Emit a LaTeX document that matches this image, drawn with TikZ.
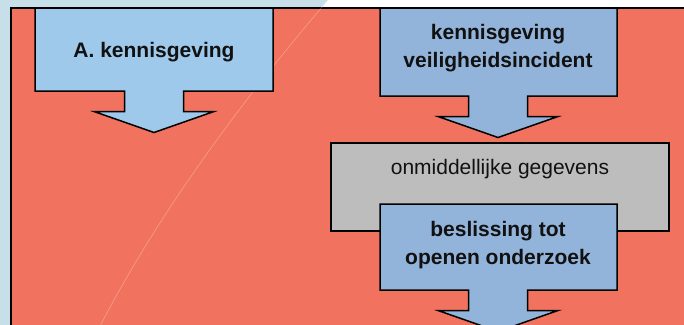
\documentclass[tikz,border=0pt]{standalone}
\usepackage{fontspec}
\setmainfont{Liberation Sans}
\definecolor{bgblue}{HTML}{C6DFE8}
\definecolor{redbg}{HTML}{F1735F}
\definecolor{boxA}{HTML}{9FC9EB}
\definecolor{boxB}{HTML}{93B4DA}
\definecolor{boxgray}{HTML}{BDBDBD}
\definecolor{txt}{HTML}{111111}
\tikzset{
  outline/.style={draw=black, line width=1.5pt, line join=miter},
  boldtxt/.style={font=\fontsize{21}{28}\selectfont\bfseries, text=txt, align=center, inner sep=0pt},
  plaintxt/.style={font=\fontsize{21}{28}\selectfont, text=txt, align=center, inner sep=0pt}
}
% block with arrow: #1 center x, #2 left, #3 right, #4 top, #5 box bottom, #6 fill
\newcommand{\blockarrow}[6]{%
  \filldraw[outline, fill=#6]
    (#2,#4) -- (#3,#4) -- (#3,#5) -- (#1+29.5,#5) -- (#1+29.5,#5+20.5)
    -- (#1+60,#5+20.5) -- (#1,#5+41.5) -- (#1-60,#5+20.5) -- (#1-29.5,#5+20.5)
    -- (#1-29.5,#5) -- (#2,#5) -- cycle;}
\begin{document}
\begin{tikzpicture}[x=1pt,y=-1pt]
\useasboundingbox (0,0) rectangle (684,324);
\clip (0,0) rectangle (684,324);
% background
\fill[white] (0,0) rectangle (684,324);
\fill[bgblue] (0,0) -- (328,0) .. controls (270,68) and (170,190) .. (98,330) -- (0,330) -- cycle;
% main red panel
\filldraw[outline, fill=redbg] (11,8) rectangle (720,360);
% faint arc line
\draw[white, opacity=0.3, line width=0.6pt] (328,0) .. controls (270,68) and (170,190) .. (98,330);
% box A
\blockarrow{154}{35}{273}{8}{91}{boxA}
\node[boldtxt] (ta) at (154,52) {A. kennisgeving};
% box B
\blockarrow{498}{380}{617}{8}{96}{boxB}
\node[boldtxt] (tb) at (498,48) {kennisgeving\\veiligheidsincident};
% gray box
\filldraw[outline, fill=boxgray] (331,143) rectangle (669,231);
\node[plaintxt] (tg) at (500,169) {onmiddellijke gegevens};
% box C
\blockarrow{498}{380}{617}{204}{290}{boxB}
\node[boldtxt] (tc) at (498,245) {beslissing tot\\openen onderzoek};
\end{tikzpicture}
\end{document}
